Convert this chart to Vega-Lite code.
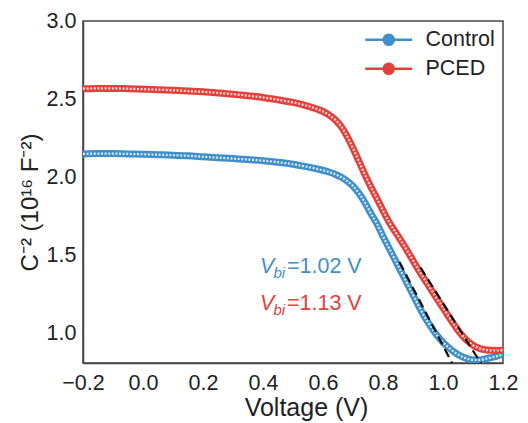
{
  "$schema": "https://vega.github.io/schema/vega-lite/v6.json",
  "width": 420,
  "height": 342,
  "autosize": {"type": "none"},
  "padding": {"left": 83, "top": 21, "right": 25, "bottom": 60},
  "config": {
    "font": "Liberation Sans",
    "view": {"stroke": "#444", "strokeWidth": 1.5},
    "axis": {
      "domainColor": "#444", "domainWidth": 1.5, "tickColor": "#333", "tickWidth": 1.4,
      "labelFontSize": 21.5, "labelColor": "#222", "titleColor": "#222", "titleFontWeight": "normal",
      "grid": false, "zindex": 1
    },
    "legend": {"labelFontSize": 21.5, "labelColor": "#222"}
  },
  "datasets": {
    "curves": [
      {"v": -0.2, "c": 2.148, "s": "Control"}, {"v": -0.15, "c": 2.150, "s": "Control"}, {"v": -0.1, "c": 2.150, "s": "Control"},
      {"v": -0.05, "c": 2.148, "s": "Control"}, {"v": 0.0, "c": 2.146, "s": "Control"}, {"v": 0.05, "c": 2.143, "s": "Control"},
      {"v": 0.1, "c": 2.140, "s": "Control"}, {"v": 0.15, "c": 2.136, "s": "Control"}, {"v": 0.2, "c": 2.130, "s": "Control"},
      {"v": 0.25, "c": 2.124, "s": "Control"}, {"v": 0.3, "c": 2.118, "s": "Control"}, {"v": 0.35, "c": 2.112, "s": "Control"},
      {"v": 0.4, "c": 2.105, "s": "Control"}, {"v": 0.45, "c": 2.095, "s": "Control"}, {"v": 0.5, "c": 2.082, "s": "Control"},
      {"v": 0.54, "c": 2.068, "s": "Control"}, {"v": 0.58, "c": 2.052, "s": "Control"}, {"v": 0.62, "c": 2.032, "s": "Control"},
      {"v": 0.64, "c": 2.018, "s": "Control"}, {"v": 0.66, "c": 2.000, "s": "Control"}, {"v": 0.68, "c": 1.975, "s": "Control"},
      {"v": 0.70, "c": 1.942, "s": "Control"}, {"v": 0.72, "c": 1.895, "s": "Control"}, {"v": 0.74, "c": 1.835, "s": "Control"},
      {"v": 0.76, "c": 1.765, "s": "Control"}, {"v": 0.78, "c": 1.700, "s": "Control"}, {"v": 0.80, "c": 1.620, "s": "Control"},
      {"v": 0.82, "c": 1.545, "s": "Control"}, {"v": 0.84, "c": 1.470, "s": "Control"}, {"v": 0.86, "c": 1.395, "s": "Control"},
      {"v": 0.88, "c": 1.320, "s": "Control"}, {"v": 0.90, "c": 1.245, "s": "Control"}, {"v": 0.92, "c": 1.170, "s": "Control"},
      {"v": 0.94, "c": 1.100, "s": "Control"}, {"v": 0.96, "c": 1.040, "s": "Control"}, {"v": 0.98, "c": 0.985, "s": "Control"},
      {"v": 1.00, "c": 0.940, "s": "Control"}, {"v": 1.02, "c": 0.905, "s": "Control"}, {"v": 1.04, "c": 0.875, "s": "Control"},
      {"v": 1.06, "c": 0.852, "s": "Control"}, {"v": 1.08, "c": 0.836, "s": "Control"}, {"v": 1.10, "c": 0.828, "s": "Control"},
      {"v": 1.12, "c": 0.827, "s": "Control"}, {"v": 1.14, "c": 0.834, "s": "Control"}, {"v": 1.16, "c": 0.843, "s": "Control"},
      {"v": 1.18, "c": 0.852, "s": "Control"}, {"v": 1.20, "c": 0.863, "s": "Control"},
      {"v": -0.2, "c": 2.566, "s": "PCED"}, {"v": -0.15, "c": 2.568, "s": "PCED"}, {"v": -0.1, "c": 2.568, "s": "PCED"},
      {"v": -0.05, "c": 2.566, "s": "PCED"}, {"v": 0.0, "c": 2.563, "s": "PCED"}, {"v": 0.05, "c": 2.560, "s": "PCED"},
      {"v": 0.1, "c": 2.556, "s": "PCED"}, {"v": 0.15, "c": 2.551, "s": "PCED"}, {"v": 0.2, "c": 2.546, "s": "PCED"},
      {"v": 0.25, "c": 2.539, "s": "PCED"}, {"v": 0.3, "c": 2.531, "s": "PCED"}, {"v": 0.35, "c": 2.521, "s": "PCED"},
      {"v": 0.4, "c": 2.510, "s": "PCED"}, {"v": 0.45, "c": 2.495, "s": "PCED"}, {"v": 0.5, "c": 2.478, "s": "PCED"},
      {"v": 0.54, "c": 2.460, "s": "PCED"}, {"v": 0.58, "c": 2.436, "s": "PCED"}, {"v": 0.60, "c": 2.420, "s": "PCED"},
      {"v": 0.62, "c": 2.398, "s": "PCED"}, {"v": 0.64, "c": 2.368, "s": "PCED"}, {"v": 0.66, "c": 2.325, "s": "PCED"},
      {"v": 0.68, "c": 2.262, "s": "PCED"}, {"v": 0.70, "c": 2.185, "s": "PCED"}, {"v": 0.72, "c": 2.100, "s": "PCED"},
      {"v": 0.74, "c": 2.015, "s": "PCED"}, {"v": 0.76, "c": 1.935, "s": "PCED"}, {"v": 0.78, "c": 1.862, "s": "PCED"},
      {"v": 0.80, "c": 1.785, "s": "PCED"}, {"v": 0.82, "c": 1.712, "s": "PCED"}, {"v": 0.84, "c": 1.652, "s": "PCED"},
      {"v": 0.86, "c": 1.592, "s": "PCED"}, {"v": 0.88, "c": 1.530, "s": "PCED"}, {"v": 0.90, "c": 1.465, "s": "PCED"},
      {"v": 0.92, "c": 1.400, "s": "PCED"}, {"v": 0.94, "c": 1.340, "s": "PCED"}, {"v": 0.96, "c": 1.280, "s": "PCED"},
      {"v": 0.98, "c": 1.220, "s": "PCED"}, {"v": 1.00, "c": 1.162, "s": "PCED"}, {"v": 1.02, "c": 1.102, "s": "PCED"},
      {"v": 1.04, "c": 1.045, "s": "PCED"}, {"v": 1.06, "c": 0.993, "s": "PCED"}, {"v": 1.08, "c": 0.952, "s": "PCED"},
      {"v": 1.10, "c": 0.922, "s": "PCED"}, {"v": 1.12, "c": 0.903, "s": "PCED"}, {"v": 1.14, "c": 0.893, "s": "PCED"},
      {"v": 1.16, "c": 0.889, "s": "PCED"}, {"v": 1.18, "c": 0.888, "s": "PCED"}, {"v": 1.20, "c": 0.889, "s": "PCED"}
    ],
    "fits": [
      {"v": 0.855, "c": 1.455, "s": "Control"}, {"v": 1.035, "c": 0.79, "s": "Control"},
      {"v": 0.925, "c": 1.42, "s": "PCED"}, {"v": 1.13, "c": 0.795, "s": "PCED"}
    ],
    "notes": [
      {"v": 0.39, "c": 1.385, "s": "Control", "num": "=1.02 V"},
      {"v": 0.39, "c": 1.147, "s": "PCED", "num": "=1.13 V"}
    ]
  },
  "resolve": {"axis": {"x": "independent", "y": "independent"}},
  "layer": [
    {
      "encoding": {
        "x": {
          "field": "v", "type": "quantitative",
          "scale": {"domain": [-0.2, 1.2], "nice": false},
          "axis": {
            "orient": "bottom",
            "title": "Voltage (V)", "titleFontSize": 25, "titleX": 223, "titleY": 52, "titleBaseline": "alphabetic",
            "values": [-0.2, 0, 0.2, 0.4, 0.6, 0.8, 1.0, 1.2], "format": ".1f",
            "tickSize": 0, "labelPadding": 9, "labelFlush": false, "labelOverlap": false,
            "encode": {"ticks": {"update": {"y2": {"value": -6}}}}
          }
        },
        "y": {
          "field": "c", "type": "quantitative",
          "scale": {"domain": [0.808, 3.0], "nice": false, "zero": false},
          "axis": {
            "orient": "left",
            "title": "C⁻² (10¹⁶ F⁻²)", "titleFontSize": 24, "titleX": -53, "titleY": 181, "titleBaseline": "middle",
            "values": [1.0, 1.5, 2.0, 2.5, 3.0], "format": ".1f",
            "tickSize": 0, "labelPadding": 7, "labelOverlap": false,
            "encode": {"ticks": {"update": {"x2": {"value": 6}}}}
          }
        }
      },
      "layer": [
        {
          "data": {"name": "curves"},
          "mark": {"type": "line", "strokeWidth": 7, "interpolate": "monotone", "clip": true},
          "encoding": {
            "color": {
              "field": "s", "type": "nominal",
              "scale": {"domain": ["Control", "PCED"], "range": ["#3f8fc9", "#e2413b"]},
              "legend": {
                "title": null, "orient": "top-right", "offset": 8,
                "symbolType": "M-4.7,0H-1M1,0H4.7M-1,0A1,1,0,1,1,1,0A1,1,0,1,1,-1,0Z",
                "symbolSize": 100, "symbolStrokeWidth": 2.6, "labelOffset": 26, "rowPadding": 6,
                "encode": {"symbols": {"update": {"fill": {"signal": "datum.value == 'Control' ? '#d6e8f5' : '#f9d6d3'"}, "fillOpacity": {"value": 1}}}}
              }
            }
          }
        },
        {
          "data": {"name": "curves"},
          "mark": {"type": "line", "strokeWidth": 2.2, "strokeDash": [2, 1.6], "color": "white", "opacity": 0.8, "interpolate": "monotone", "clip": true},
          "encoding": {"detail": {"field": "s"}}
        },
        {
          "data": {"name": "fits"},
          "mark": {"type": "line", "strokeWidth": 2.2, "strokeDash": [9, 5], "color": "#111", "clip": true},
          "encoding": {"detail": {"field": "s"}}
        },
        {
          "data": {"name": "notes"},
          "mark": {"type": "text", "text": "V", "fontStyle": "italic", "fontSize": 21.5, "align": "left", "baseline": "alphabetic"},
          "encoding": {"color": {"field": "s", "type": "nominal", "legend": null}}
        },
        {
          "data": {"name": "notes"},
          "mark": {"type": "text", "text": "bi", "fontStyle": "italic", "fontSize": 15, "align": "left", "baseline": "alphabetic", "dx": 13.5, "dy": 5},
          "encoding": {"color": {"field": "s", "type": "nominal", "legend": null}}
        },
        {
          "data": {"name": "notes"},
          "mark": {"type": "text", "fontSize": 21.5, "align": "left", "baseline": "alphabetic", "dx": 27},
          "encoding": {"text": {"field": "num"}, "color": {"field": "s", "type": "nominal", "legend": null}}
        }
      ]
    },
    {
      "data": {"name": "fits"},
      "mark": {"type": "point", "opacity": 0},
      "encoding": {
        "x": {
          "field": "v", "type": "quantitative",
          "axis": {"orient": "bottom", "title": null, "labels": false, "domain": false, "tickSize": 0,
                   "values": [-0.1, 0.1, 0.3, 0.5, 0.7, 0.9, 1.1],
                   "encode": {"ticks": {"update": {"y2": {"value": -4}}}}}
        },
        "y": {
          "field": "c", "type": "quantitative",
          "axis": {"orient": "left", "title": null, "labels": false, "domain": false, "tickSize": 0,
                   "values": [1.25, 1.75, 2.25, 2.75],
                   "encode": {"ticks": {"update": {"x2": {"value": 4}}}}}
        }
      }
    }
  ]
}
